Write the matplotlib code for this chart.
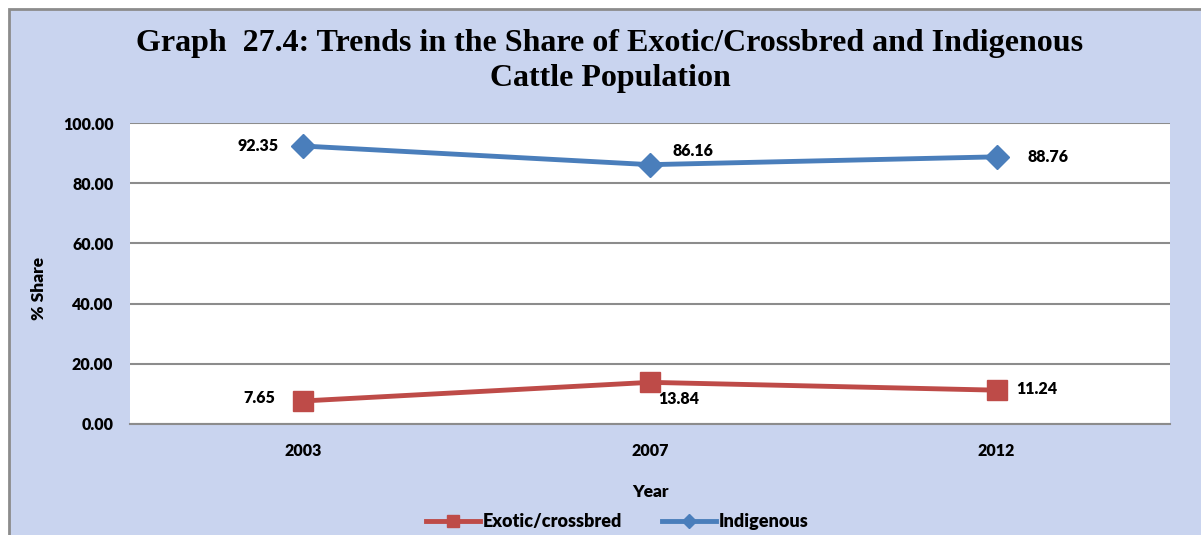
import matplotlib.pyplot as plt
from matplotlib.patches import Rectangle

# data
years = ['2003', '2007', '2012']
exotic = [7.65, 13.84, 11.24]
indigenous = [92.35, 86.16, 88.76]
y_ticks = [0, 20, 40, 60, 80, 100]

plt.rcParams['font.family'] = ['Lato', 'DejaVu Sans']

W, H = 1201, 535
fig = plt.figure(figsize=(W / 100, H / 100), dpi=100, facecolor='white')

# chart area background with border (left/top visible)
bg = Rectangle((9 / W, -0.05), 1.2, 1 - 9 / H + 0.05, transform=fig.transFigure,
               facecolor='#c9d4ef', edgecolor='#8c8c8c', linewidth=2, zorder=-10)
fig.patches.append(bg)

ax = fig.add_axes([130 / W, 1 - 424 / H, 1040 / W, 301 / H])
ax.set_facecolor('white')

x = range(len(years))
ax.plot(x, exotic, color='#be4b48', linewidth=3.5, marker='s', markersize=14,
        label='Exotic/crossbred', zorder=3)
ax.plot(x, indigenous, color='#4a7ebb', linewidth=3.5, marker='D', markersize=12,
        label='Indigenous', zorder=3)

ax.set_xlim(-0.5, 2.5)
ax.set_ylim(0, 100)
ax.set_yticks(y_ticks)
ax.set_yticklabels([f'{v:.2f}' for v in y_ticks], fontsize=11.5, fontweight='heavy')
ax.set_xticks(list(x))
ax.set_xticklabels(years, fontsize=11.5, fontweight='heavy')
ax.tick_params(length=0, pad=12)
ax.tick_params(axis='x', pad=14)
ax.grid(axis='y', color='#8c8c8c', linewidth=1.5)
ax.set_axisbelow(True)
for s in ['left', 'right', 'top']:
    ax.spines[s].set_visible(False)
ax.spines['bottom'].set_color('#8c8c8c')
ax.spines['bottom'].set_linewidth(1.5)

# data labels
offsets_ind = [(-18, 0, 'right', 'center'), (16, 4, 'left', 'bottom'), (22, 0, 'left', 'center')]
offsets_exo = [(-20, 2, 'right', 'center'), (6, -6, 'left', 'top'), (14, 1, 'left', 'center')]
for i in x:
    dx, dy, ha, va = offsets_ind[i]
    ax.annotate(f'{indigenous[i]:.2f}', (i, indigenous[i]), xytext=(dx, dy),
                textcoords='offset points', ha=ha, va=va, fontsize=11.5, fontweight='heavy')
    dx, dy, ha, va = offsets_exo[i]
    ax.annotate(f'{exotic[i]:.2f}', (i, exotic[i]), xytext=(dx, dy),
                textcoords='offset points', ha=ha, va=va, fontsize=11.5, fontweight='heavy')

ax.set_ylabel('% Share', fontsize=12.5, fontweight='heavy')
ax.yaxis.set_label_coords(-0.08, 0.45)
ax.set_xlabel('Year', fontsize=12.5, fontweight='heavy')
ax.xaxis.set_label_coords(0.5, -0.2)

fig.text(610 / W, 1 - 61 / H,
         'Graph  27.4: Trends in the Share of Exotic/Crossbred and Indigenous\nCattle Population',
         ha='center', va='center', fontsize=23, fontweight='bold',
         family=['Liberation Serif', 'DejaVu Serif'], linespacing=1.25)

ax.legend(loc='center', bbox_to_anchor=(617 / W, 1 - 522 / H), bbox_transform=fig.transFigure,
          ncol=2, frameon=False, prop={'weight': 'heavy', 'size': 13},
          handlelength=3.0, columnspacing=2.2, handletextpad=0.15, markerscale=0.6)

plt.savefig('out.png', dpi=100, facecolor=fig.get_facecolor())
